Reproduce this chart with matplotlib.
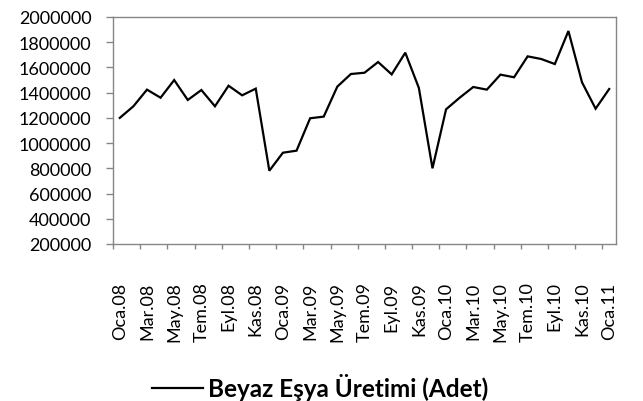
import matplotlib
matplotlib.use("Agg")
from matplotlib import pyplot as plt


# monthly output, Oca.08 .. Oca.11
months = ["Oca", "Şub", "Mar", "Nis", "May", "Haz", "Tem", "Ağu", "Eyl", "Eki", "Kas", "Ara"]
years = ["08", "09", "10", "11"]
periods = [m + "." + y for y in years for m in months][:37]

production = [
    1200000, 1292000, 1424000, 1360000, 1500000, 1342000, 1421000, 1292000, 1455000, 1379000, 1432000, 781000,
    924000, 940000, 1197000, 1210000, 1448000, 1548000, 1558000, 1643000, 1545000, 1717000, 1437000, 800000,
    1268000, 1360000, 1445000, 1424000, 1543000, 1522000, 1688000, 1667000, 1627000, 1889000, 1482000, 1273000,
    1429000,
]

y_ticks = [200000, 400000, 600000, 800000, 1000000, 1200000, 1400000, 1600000, 1800000, 2000000]

plt.rcParams["font.family"] = ["Lato", "DejaVu Sans"]

fig = plt.figure(figsize=(6.43, 4.02), dpi=100)
ax = fig.add_axes([113 / 643, 1 - 245 / 402, 503 / 643, 227 / 402])

x = list(range(len(production)))
line, = ax.plot(x, production, color="black", linewidth=1.6, solid_joinstyle="miter")

ax.set_xlim(-0.5, len(production) - 0.5)
ax.set_ylim(200000, 2000000)
ax.set_yticks(y_ticks)
ax.set_yticklabels([str(v) for v in y_ticks], fontsize=13)

# labels every second month at category centres, ticks between categories
ax.set_xticks(x[::2])
ax.set_xticklabels(periods[::2], rotation=90, fontsize=13, va="top")
ax.set_xticks([i - 0.5 for i in range(0, len(production), 2)], minor=True)
ax.tick_params(axis="x", which="major", length=0, pad=27)
ax.tick_params(axis="x", which="minor", length=3.6, color="#868686", width=1)
ax.tick_params(axis="y", length=5, color="#868686", width=1, pad=10.5)

for s in ax.spines.values():
    s.set_color("#868686")
    s.set_linewidth(1)

fig.legend([line], ["Beyaz Eşya Üretimi (Adet)"], loc="center",
           bbox_to_anchor=(0.498, 1 - 388 / 402), frameon=False,
           prop={"weight": "bold", "size": 17.5}, handlelength=2.1, handletextpad=0.2)

fig.savefig("out.png", dpi=100)
